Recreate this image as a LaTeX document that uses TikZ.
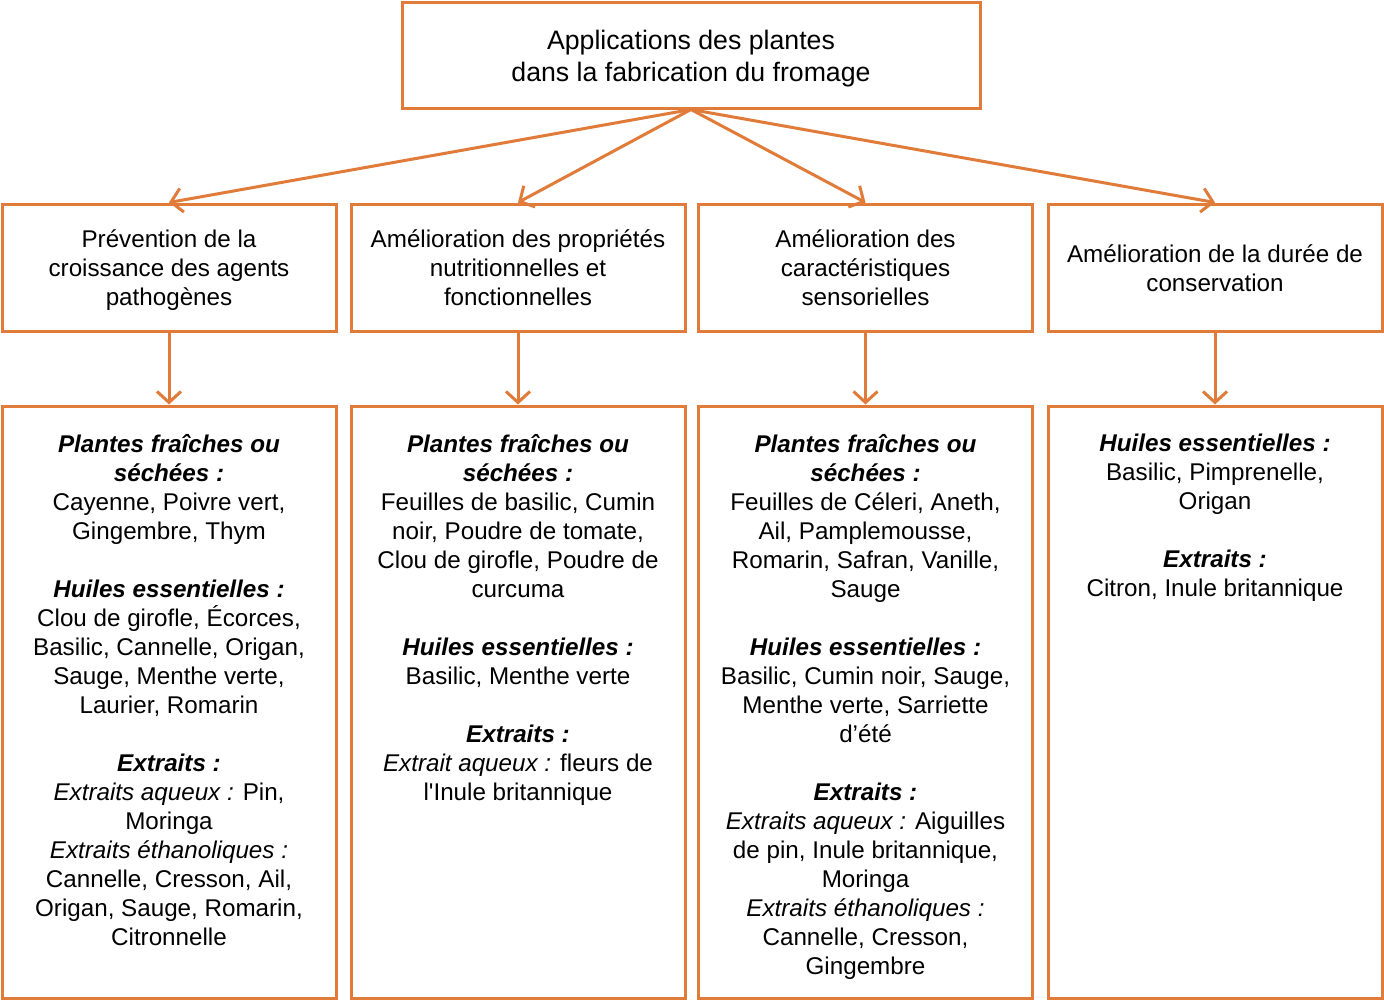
\documentclass[tikz,border=0pt]{standalone}
\usepackage{fontspec}
\setmainfont{Liberation Sans}[Ligatures=TeXOff]
\usetikzlibrary{arrows.meta}
\definecolor{orng}{HTML}{E07B39}
\newcommand{\hd}[1]{{\bfseries\itshape #1}}
\newcommand{\itx}[1]{{\itshape #1}}
\begin{document}
\begin{tikzpicture}[x=1pt,y=-1pt,
  box/.style={draw=orng,line width=3pt,minimum width=334pt,inner sep=0pt},
  topbox/.style={draw=orng,line width=3pt,minimum width=578pt,minimum height=106pt,inner sep=0pt},
  midbox/.style={box,minimum height=127pt},
  lowbox/.style={box,minimum height=592pt},
  txt/.style={align=center,inner sep=0pt,font=\fontsize{24.2}{29}\selectfont},
  conn/.style={draw=orng,line width=3pt,-{Straight Barb[length=11pt,width=24pt,line width=3pt]}}]
\useasboundingbox (0,0) rectangle (1384,1001);
% boxes
\node[topbox] (top) at (691,55) {};
\node[midbox] (m1) at (169,267.5) {};
\node[midbox] (m2) at (518,267.5) {};
\node[midbox] (m3) at (865.5,267.5) {};
\node[midbox] (m4) at (1215,267.5) {};
\node[lowbox] (l1) at (169,702) {};
\node[lowbox] (l2) at (518,702) {};
\node[lowbox] (l3) at (865.5,702) {};
\node[lowbox] (l4) at (1215,702) {};
% texts
\node[txt,font=\fontsize{26.7}{32}\selectfont,yshift=-4pt] (ttop) at (top.center) {Applications des plantes\\dans la fabrication du fromage};
\node[txt,yshift=-3pt] (tm1) at (m1.center) {Prévention de la\\croissance des agents\\pathogènes};
\node[txt] (tm2) at (m2.center) {Amélioration des propriétés\\nutritionnelles et\\fonctionnelles};
\node[txt] (tm3) at (m3.center) {Amélioration des\\caractéristiques\\sensorielles};
\node[txt,yshift=-1pt] (tm4) at (m4.center) {Amélioration de la durée de\\conservation};
\node[txt,anchor=north] (tl1) at (169,434) {\hd{Plantes fraîches ou}\\\hd{séchées :}\\Cayenne, Poivre vert,\\Gingembre, Thym\\[29pt]
\hd{Huiles essentielles :}\\Clou de girofle, Écorces,\\Basilic, Cannelle, Origan,\\Sauge, Menthe verte,\\Laurier, Romarin\\[29pt]
\hd{Extraits :}\\\itx{Extraits aqueux :} Pin,\\Moringa\\\itx{Extraits éthanoliques :}\\Cannelle, Cresson, Ail,\\Origan, Sauge, Romarin,\\Citronnelle};
\node[txt,anchor=north] (tl2) at (518,434) {\hd{Plantes fraîches ou}\\\hd{séchées :}\\Feuilles de basilic, Cumin\\noir, Poudre de tomate,\\Clou de girofle, Poudre de\\curcuma\\[29pt]
\hd{Huiles essentielles :}\\Basilic, Menthe verte\\[29pt]
\hd{Extraits :}\\\itx{Extrait aqueux :} fleurs de\\l'Inule britannique};
\node[txt,anchor=north] (tl3) at (865.5,434) {\hd{Plantes fraîches ou}\\\hd{séchées :}\\Feuilles de Céleri, Aneth,\\Ail, Pamplemousse,\\Romarin, Safran, Vanille,\\Sauge\\[29pt]
\hd{Huiles essentielles :}\\Basilic, Cumin noir, Sauge,\\Menthe verte, Sarriette\\d’été\\[29pt]
\hd{Extraits :}\\\itx{Extraits aqueux :} Aiguilles\\de pin, Inule britannique,\\Moringa\\\itx{Extraits éthanoliques :}\\Cannelle, Cresson,\\Gingembre};
\node[txt,anchor=north] (tl4) at (1215,434) {\hd{Huiles essentielles :}\\Basilic, Pimprenelle,\\Origan\\[29pt]
\hd{Extraits :}\\Citron, Inule britannique};
% connectors
\draw[conn] (top.south) -- (m1.north);
\draw[conn] (top.south) -- (m2.north);
\draw[conn] (top.south) -- (m3.north);
\draw[conn] (top.south) -- (m4.north);
\draw[conn] (m1.south) -- (l1.north);
\draw[conn] (m2.south) -- (l2.north);
\draw[conn] (m3.south) -- (l3.north);
\draw[conn] (m4.south) -- (l4.north);
\end{tikzpicture}
\end{document}
